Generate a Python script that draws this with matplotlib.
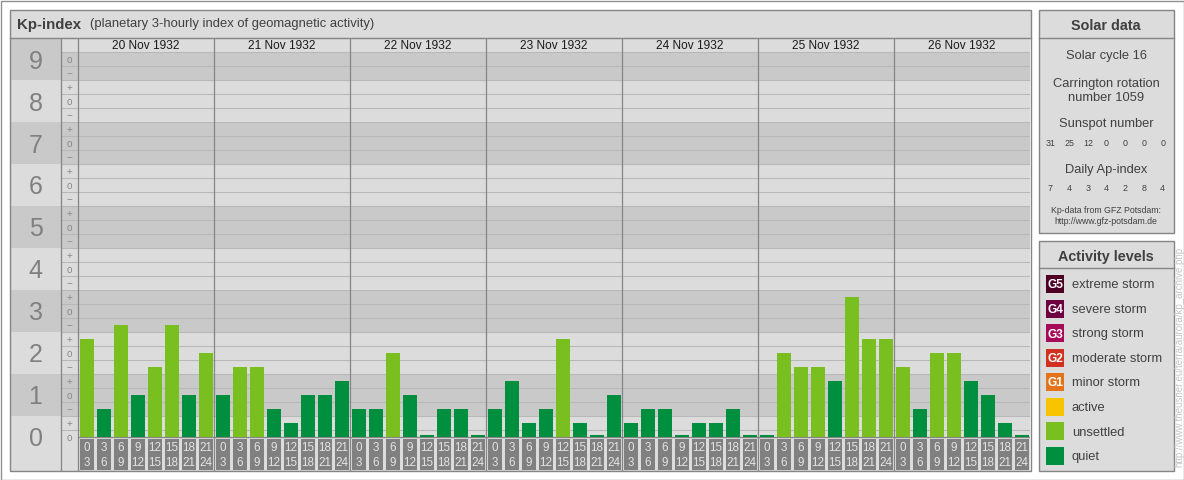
import matplotlib
matplotlib.use("Agg")
from matplotlib import pyplot as plt
from matplotlib.patches import Rectangle
import numpy as np

plt.rcParams['font.family'] = ['Liberation Sans', 'DejaVu Sans']

days = ["20 Nov 1932", "21 Nov 1932", "22 Nov 1932", "23 Nov 1932",
        "24 Nov 1932", "25 Nov 1932", "26 Nov 1932"]
hour_start = ["0", "3", "6", "9", "12", "15", "18", "21"]
hour_end = ["3", "6", "9", "12", "15", "18", "21", "24"]

# Kp per 3-hour interval (thirds notation)
kp_20 = ["2+", "1-", "3-", "1o", "2-", "3-", "1o", "2o"]
kp_21 = ["1o", "2-", "2-", "1-", "0+", "1o", "1o", "1+"]
kp_22 = ["1-", "1-", "2o", "1o", "0o", "1-", "1-", "0o"]
kp_23 = ["1-", "1+", "0+", "1-", "2+", "0+", "0o", "1o"]
kp_24 = ["0+", "1-", "1-", "0o", "0+", "0+", "1-", "0o"]
kp_25 = ["0o", "2o", "2-", "2-", "1+", "3+", "2+", "2+"]
kp_26 = ["2-", "1-", "2o", "2o", "1+", "1o", "0+", "0o"]

sunspots = [31, 25, 12, 0, 0, 0, 0]
ap_daily = [7, 4, 3, 4, 2, 8, 4]

levels = ["extreme storm", "severe storm", "strong storm", "moderate storm",
          "minor storm", "active", "unsettled", "quiet"]
level_tags = ["G5", "G4", "G3", "G2", "G1", "", "", ""]
level_colors = ["#4e0024", "#6e0040", "#a80a5a", "#d2301e", "#e4741c",
                "#f8c300", "#7abf20", "#008f3e"]


def kp_value(s):
    return int(s[0]) + {"-": -1/3, "o": 0.0, "+": 1/3}[s[1]]


def kp_color(v):
    limits = [26/3, 23/3, 20/3, 17/3, 14/3, 11/3, 5/3]
    for lim, c in zip(limits, level_colors):
        if v >= lim - 0.01:
            return c
    return level_colors[-1]


kp_all = kp_20 + kp_21 + kp_22 + kp_23 + kp_24 + kp_25 + kp_26
kp = [kp_value(s) for s in kp_all]

W, H = 1184, 480
light = "#dcdcdc"
dark = "#c9c9c9"
border = "#858585"
txt = "#404040"
VA = "center_baseline"

fig = plt.figure(figsize=(W / 100, H / 100), dpi=100, facecolor="white")

# main chart: x = 3-hour slot, y = Kp
ax = fig.add_axes([10 / W, 9 / H, 1020 / W, 434 / H], zorder=1)
ax.set_xlim(-4, 56)
ax.set_ylim(-0.81, 9.524)
ax.axis("off")

ax.add_patch(Rectangle((-4, -0.81), 60, 10.334, color=light, lw=0))
for n in range(1, 10, 2):
    ax.add_patch(Rectangle((-4, n - 0.5), 3, min(n + 0.5, 9.524) - (n - 0.5), color=dark, lw=0))
    ax.add_patch(Rectangle((-1, n - 0.5), 57, min(n + 0.5, 9 + 1/6) - (n - 0.5), color=dark, lw=0))

grid_y = [1/6 + m/3 for m in range(28)]
ax.hlines(grid_y, -1, 56, color="#b8b8b8", lw=0.75)
ax.vlines([-1, 0] + [8 * k for k in range(1, 7)], -0.81, 9.524, color=border, lw=0.9)
ax.hlines(0, 0, 56, color=border, lw=0.9)

for n in range(10):
    ax.text(-2.5, n, str(n), ha="center", va=VA, fontsize=18, color="#808080")
    for off, s in [(-1/3, "−"), (0, "o"), (1/3, "+")]:
        v = n + off
        if 0 <= v <= 9:
            ax.text(-0.5, v, s, ha="center", va=VA, fontsize=7.2, color="#8a8a8a")

x = np.arange(len(kp)) + 0.5
ax.bar(x, [max(v, 0.04) for v in kp], width=14/17, color=[kp_color(v) for v in kp], zorder=3)

# hour boxes
ax.bar(x, 0.745, bottom=-0.786, width=14/17, color="#808080", zorder=3)
for i in range(len(kp)):
    ax.text(i + 0.5, -0.232, hour_start[i % 8], ha="center", va=VA,
            fontsize=8.4, color="#e4e4e4", zorder=4)
    ax.text(i + 0.5, -0.572, hour_end[i % 8], ha="center", va=VA,
            fontsize=8.4, color="#e4e4e4", zorder=4)

for d, name in enumerate(days):
    ax.text(8 * d + 4, 9.357, name, ha="center", va=VA, fontsize=8.6, color="#1a1a1a")

# frames, header and side panels in pixel coordinates
fr = fig.add_axes([0, 0, 1, 1], zorder=3)
fr.set_xlim(0, W)
fr.set_ylim(H, 0)
fr.axis("off")

fr.add_patch(Rectangle((0.5, 0.5), W - 1, H - 1, fill=False, ec="#909090", lw=1))
fr.add_patch(Rectangle((9.5, 9.5), 1021, 28, fc=light, ec="none"))
fr.add_patch(Rectangle((9.5, 9.5), 1021, 461.5, fill=False, ec=border, lw=1))
fr.plot([9.5, 1030.5], [37.5, 37.5], color=border, lw=1)
fr.text(17, 23, "Kp-index", fontsize=10.8, fontweight="bold", color=txt, va=VA)
fr.text(90, 23, "(planetary 3-hourly index of geomagnetic activity)", fontsize=9.4,
        color=txt, va=VA)

# Solar data panel
fr.add_patch(Rectangle((1038.5, 9.5), 135.5, 223, fc=light, ec=border, lw=1))
fr.plot([1038.5, 1174], [38, 38], color=border, lw=1)
fr.text(1106, 25, "Solar data", fontsize=10.4, fontweight="bold", color=txt,
        ha="center", va=VA)
cx = 1106
fr.text(cx, 54, "Solar cycle 16", fontsize=9.3, color=txt, ha="center", va=VA)
fr.text(cx, 82, "Carrington rotation", fontsize=9.3, color=txt, ha="center", va=VA)
fr.text(cx, 96.5, "number 1059", fontsize=9.3, color=txt, ha="center", va=VA)
fr.text(cx, 123, "Sunspot number", fontsize=9.3, color=txt, ha="center", va=VA)
for i, s in enumerate(sunspots):
    fr.text(1050.5 + 18.7 * i, 142, str(s), fontsize=6.4, color=txt, ha="center", va=VA)
fr.text(cx, 168.5, "Daily Ap-index", fontsize=9.3, color=txt, ha="center", va=VA)
for i, a in enumerate(ap_daily):
    fr.text(1050.5 + 18.7 * i, 187.5, str(a), fontsize=6.4, color=txt, ha="center", va=VA)
fr.text(cx, 209.5, "Kp-data from GFZ Potsdam:", fontsize=6.3, color=txt, ha="center", va=VA)
fr.text(cx, 220, "http://www.gfz-potsdam.de", fontsize=6.3, color=txt, ha="center", va=VA)

# Activity levels panel
fr.add_patch(Rectangle((1038.5, 240.5), 135.5, 230.5, fc=light, ec=border, lw=1))
fr.plot([1038.5, 1174], [268, 268], color=border, lw=1)
fr.text(1106, 255, "Activity levels", fontsize=10.4, fontweight="bold", color=txt,
        ha="center", va=VA)
for i, (lab, tag, c) in enumerate(zip(levels, level_tags, level_colors)):
    yc = 284 + 24.5 * i
    fr.add_patch(Rectangle((1046, yc - 9), 18, 18, color=c, lw=0))
    if tag:
        fr.text(1055, yc, tag, fontsize=8.6, fontweight="bold", color="white",
                ha="center", va=VA)
    fr.text(1072, yc, lab, fontsize=9.3, color=txt, va=VA)

fr.text(1179, 357, "http://www.theusner.eu/terra/aurora/kp_archive.php", rotation=90,
        fontsize=7, color="#c4c4c4", ha="center", va="center")

fig.savefig("out.png", dpi=100, facecolor="white")
